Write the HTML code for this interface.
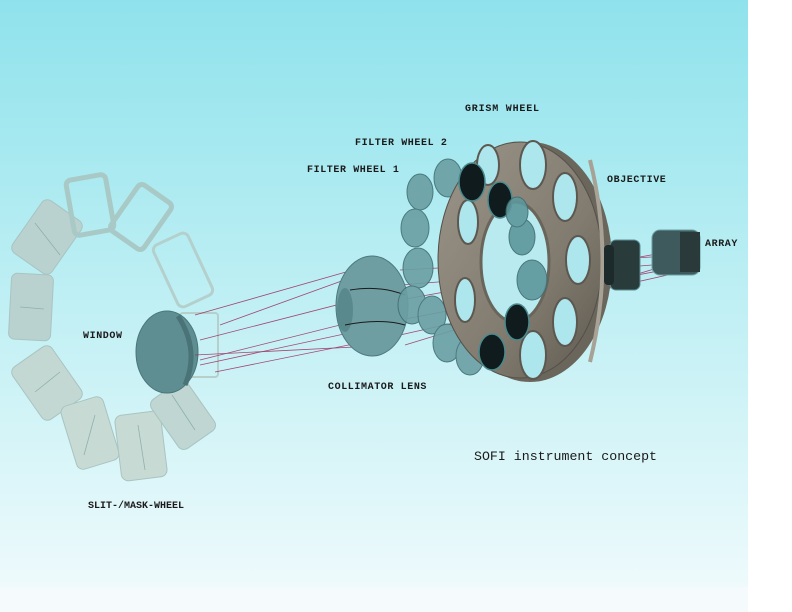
<!DOCTYPE html>
<html><head><meta charset="utf-8"><style>
html,body{margin:0;padding:0;background:#fff}
svg{display:block}
text{font-family:"Liberation Mono",monospace;font-weight:bold;fill:#1a1a1a}
</style></head><body>
<svg width="792" height="612" viewBox="0 0 792 612" xmlns="http://www.w3.org/2000/svg">
<defs>
<linearGradient id="bg" x1="0" y1="0" x2="0" y2="1">
<stop offset="0" stop-color="#8fe2ec"/>
<stop offset="0.45" stop-color="#b9eef3"/>
<stop offset="1" stop-color="#eefafc"/>
</linearGradient>
<linearGradient id="ring" x1="0" y1="0" x2="1" y2="1">
<stop offset="0" stop-color="#9a9588"/>
<stop offset="0.6" stop-color="#827c70"/>
<stop offset="1" stop-color="#5e594f"/>
</linearGradient>
</defs>
<rect x="0" y="0" width="748" height="587" fill="url(#bg)"/>
<rect x="0" y="587" width="748" height="25" fill="#f5fbfc"/>
<rect x="748" y="0" width="44" height="612" fill="#ffffff"/>

<!-- slit/mask wheel tiles -->
<g fill="#b9d2cf" stroke="#a9c4c1" stroke-width="1">
<rect x="-24" y="-32" width="48" height="64" rx="7" transform="translate(47,237) rotate(35)"/>
<rect x="-21" y="-33" width="42" height="66" rx="6" transform="translate(31,307) rotate(3)"/>
<rect x="-24" y="-32" width="48" height="64" rx="7" transform="translate(47,383) rotate(-35)" fill="#c3d8d3"/>
<rect x="-22" y="-33" width="44" height="66" rx="7" transform="translate(90,433) rotate(-17)" fill="#c8dad4"/>
<rect x="-23" y="-33" width="46" height="66" rx="7" transform="translate(141,446) rotate(-7)" fill="#c8dad4"/>
<rect x="-22" y="-30" width="44" height="60" rx="7" transform="translate(183,415) rotate(-35)" fill="#bfd6d2"/>
</g>
<g stroke="#8fb0ac" stroke-width="0.8">
<line x1="35" y1="223" x2="60" y2="255"/><line x1="20" y1="307" x2="44" y2="309"/>
<line x1="35" y1="392" x2="60" y2="372"/><line x1="84" y1="455" x2="95" y2="415"/>
<line x1="138" y1="425" x2="145" y2="470"/><line x1="172" y1="395" x2="195" y2="430"/>
</g>
<g fill="none" stroke="#a9c9c6" stroke-width="5">
<rect x="-20" y="-28" width="40" height="56" rx="5" transform="translate(90,205) rotate(-10)"/>
<rect x="-20" y="-28" width="40" height="56" rx="5" transform="translate(141,217) rotate(35)"/>
</g>
<rect x="-19" y="-34" width="38" height="68" rx="6" transform="translate(183,270) rotate(-25)" fill="none" stroke="#b4d0cc" stroke-width="3"/>

<!-- window -->
<rect x="180" y="313" width="38" height="64" rx="3" fill="none" stroke="#b5cfcb" stroke-width="2"/>
<ellipse cx="167" cy="352" rx="31" ry="41" fill="#5f8e92" stroke="#48767a"/>
<path d="M178 316 Q200 350 185 385" stroke="#4a7377" stroke-width="5" fill="none"/>

<!-- rays -->
<g stroke="#9a2a5c" stroke-width="0.8" fill="none" opacity="0.85">
<line x1="195" y1="315" x2="360" y2="268"/>
<line x1="220" y1="325" x2="372" y2="270"/>
<line x1="200" y1="340" x2="395" y2="290"/>
<line x1="200" y1="360" x2="400" y2="310"/>
<line x1="200" y1="365" x2="400" y2="322"/>
<line x1="215" y1="372" x2="398" y2="335"/>
<line x1="195" y1="355" x2="395" y2="345"/>
<line x1="400" y1="270" x2="690" y2="255"/>
<line x1="400" y1="285" x2="690" y2="262"/>
<line x1="400" y1="300" x2="690" y2="248"/>
<line x1="400" y1="320" x2="690" y2="265"/>
<line x1="400" y1="335" x2="690" y2="270"/>
<line x1="405" y1="345" x2="690" y2="258"/>
</g>

<!-- collimator -->
<ellipse cx="372" cy="306" rx="36" ry="50" fill="#6e9ea2" stroke="#4b7a7e"/>
<ellipse cx="345" cy="310" rx="8" ry="22" fill="#5a898d"/>
<path d="M350 290 Q380 285 405 295 M345 325 Q380 318 405 325" stroke="#1a1a1a" stroke-width="1" fill="none"/>

<!-- filter wheel lenses (behind) -->
<g fill="#6a9fa3" stroke="#3f6e72" stroke-width="1" opacity="0.9">
<ellipse cx="420" cy="192" rx="13" ry="18"/>
<ellipse cx="448" cy="178" rx="14" ry="19"/>
<ellipse cx="415" cy="228" rx="14" ry="19"/>
<ellipse cx="418" cy="268" rx="15" ry="20"/>
<ellipse cx="412" cy="305" rx="14" ry="19"/>
<ellipse cx="432" cy="315" rx="14" ry="19"/>
<ellipse cx="447" cy="343" rx="14" ry="19"/>
<ellipse cx="470" cy="356" rx="14" ry="19"/>
</g>

<!-- grism wheel -->
<ellipse cx="530" cy="262" rx="82" ry="120" fill="#6b665c"/>
<ellipse cx="520" cy="260" rx="82" ry="118" fill="url(#ring)" stroke="#55504a"/>
<ellipse cx="515" cy="262" rx="34" ry="60" fill="#b8eaf0" stroke="#6a655b" stroke-width="3"/>
<g fill="#aee6ee" stroke="#5d584f" stroke-width="2">
<ellipse cx="533" cy="165" rx="13" ry="24"/>
<ellipse cx="565" cy="197" rx="12" ry="24"/>
<ellipse cx="578" cy="260" rx="12" ry="24"/>
<ellipse cx="565" cy="322" rx="12" ry="24"/>
<ellipse cx="533" cy="355" rx="13" ry="24"/>
<ellipse cx="468" cy="222" rx="10" ry="22"/>
<ellipse cx="465" cy="300" rx="10" ry="22"/>
<ellipse cx="488" cy="165" rx="11" ry="20"/>
</g>
<path d="M590 160 Q615 260 590 362" stroke="#a7a295" stroke-width="4" fill="none"/>

<!-- front filter lenses -->
<g fill="#0f1b1c" stroke="#4a8a8e" stroke-width="1.5">
<ellipse cx="472" cy="182" rx="13" ry="19"/>
<ellipse cx="500" cy="200" rx="12" ry="18"/>
<ellipse cx="492" cy="352" rx="13" ry="18"/>
<ellipse cx="517" cy="322" rx="12" ry="18"/>
</g>
<g fill="#5e979b" stroke="#3d6d71" stroke-width="1" opacity="0.9">
<ellipse cx="522" cy="237" rx="13" ry="18"/>
<ellipse cx="532" cy="280" rx="15" ry="20"/>
<ellipse cx="517" cy="212" rx="11" ry="15"/>
</g>

<!-- objective -->
<rect x="610" y="240" width="30" height="50" rx="6" fill="#2a3b3c" stroke="#5a9094"/>
<rect x="604" y="245" width="10" height="40" rx="4" fill="#1c2a2b"/>
<!-- array -->
<rect x="652" y="230" width="48" height="45" rx="8" fill="#3e5a5c" stroke="#6aa0a4"/>
<rect x="680" y="232" width="20" height="40" fill="#2a3a3b"/>

<!-- labels -->
<text x="465" y="111" font-size="10" letter-spacing="0.8">GRISM WHEEL</text>
<text x="355" y="145" font-size="10" letter-spacing="0.6">FILTER WHEEL 2</text>
<text x="307" y="172" font-size="10" letter-spacing="0.6">FILTER WHEEL 1</text>
<text x="607" y="182" font-size="10" letter-spacing="0.6">OBJECTIVE</text>
<text x="705" y="246" font-size="10" letter-spacing="0.6">ARRAY</text>
<text x="83" y="338" font-size="10" letter-spacing="0.6">WINDOW</text>
<text x="328" y="389" font-size="10" letter-spacing="0.6">COLLIMATOR LENS</text>
<text x="474" y="460" font-size="13" style="font-weight:normal" textLength="183" lengthAdjust="spacingAndGlyphs">SOFI  instrument concept</text>
<text x="88" y="508" font-size="10" letter-spacing="0">SLIT-/MASK-WHEEL</text>
</svg>
</body></html>
